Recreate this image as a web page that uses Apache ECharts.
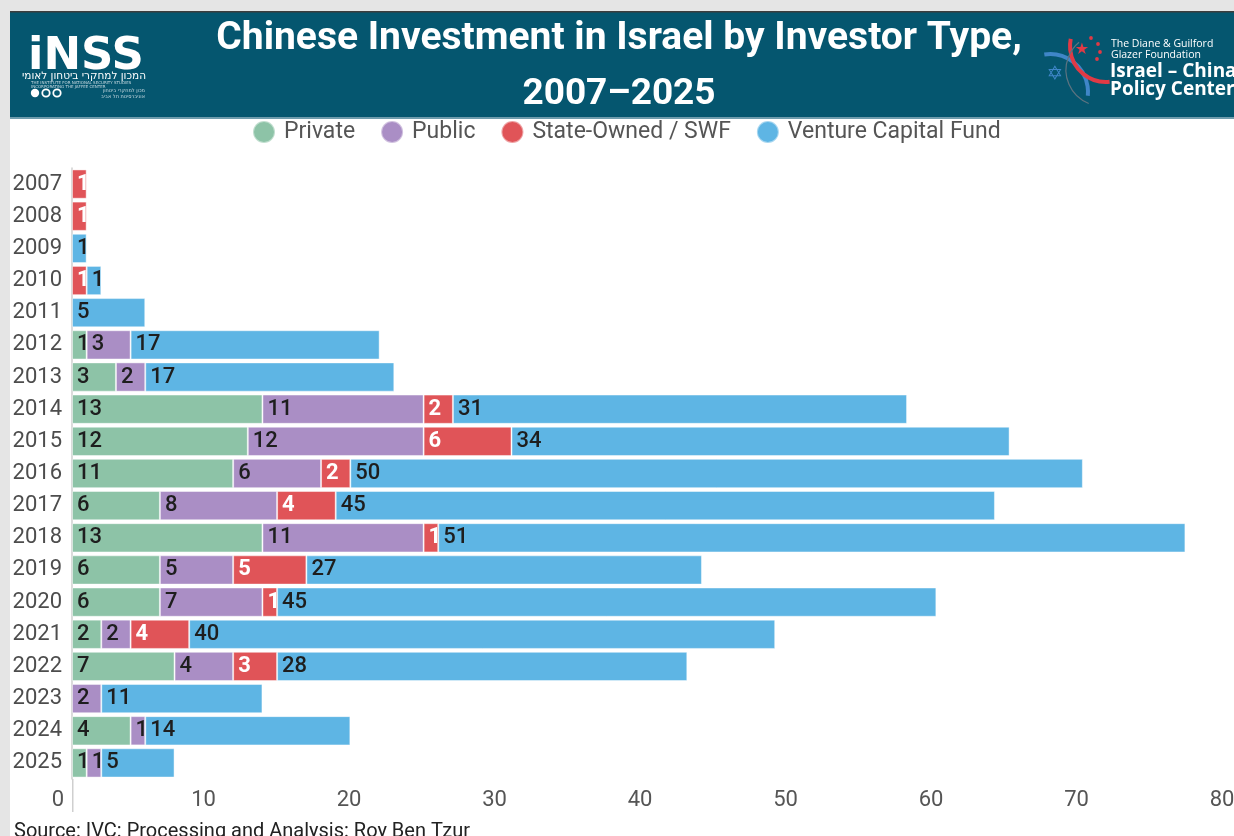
<!DOCTYPE html>
<html>
<head>
<meta charset="utf-8">
<title>Chinese Investment in Israel by Investor Type, 2007–2025</title>
<script src="https://cdn.jsdelivr.net/npm/echarts@6/dist/echarts.min.js"></script>
<style>
  html, body { margin: 0; padding: 0; background: #e5e5e5; overflow: hidden; }
  body { width: 1234px; height: 836px; }
  /* canvas is a little wider than the window so the value axis can run past the right edge */
  #chart { width: 1250px; height: 836px; }
</style>
</head>
<body>
<div id="chart"></div>
<script>
// Deal counts per year and investor type (null = no deals)
const years = ['2007', '2008', '2009', '2010', '2011', '2012', '2013', '2014', '2015', '2016',
               '2017', '2018', '2019', '2020', '2021', '2022', '2023', '2024', '2025'];
const privateVals = [null, null, null, null, null, 1, 3, 13, 12, 11, 6, 13, 6, 6, 2, 7, null, 4, 1];
const publicVals  = [null, null, null, null, null, 3, 2, 11, 12, 6, 8, 11, 5, 7, 2, 4, 2, 1, 1];
const stateVals   = [1, 1, null, 1, null, null, null, 2, 6, 2, 4, 1, 5, 1, 4, 3, null, null, null];
const vcfVals     = [null, null, 1, 1, 5, 17, 17, 31, 34, 50, 45, 51, 27, 45, 40, 28, 11, 14, 5];

const seriesNames = ['Private', 'Public', 'State-Owned / SWF', 'Venture Capital Fund'];
const colors = ['#8dc3a7', '#aa8ec5', '#e05458', '#5eb5e4'];
const axisMin = 0, axisMax = 80, axisStep = 10;

const FONT = 'Roboto, "Noto Sans", sans-serif';
const chart = echarts.init(document.getElementById('chart'), null, { renderer: 'canvas' });

function barSeries(name, data, color, labelColor, labelWeight) {
  return {
    name: name,
    type: 'bar',
    stack: 'total',
    xAxisIndex: 0,
    yAxisIndex: 0,
    data: data,
    barCategoryGap: '9%',
    itemStyle: { color: color, borderColor: 'rgba(255,255,255,0.45)', borderWidth: 1 },
    label: {
      show: true,
      position: 'insideLeft',
      distance: 5,
      formatter: p => (p.value == null ? '' : String(p.value)),
      color: labelColor,
      fontFamily: FONT,
      fontSize: 22,
      fontWeight: labelWeight
    },
    emphasis: { disabled: true }
  };
}

const option = {
  backgroundColor: '#e5e5e5',
  animation: false,
  legend: {
    data: seriesNames,
    left: 247,
    top: 115,
    icon: 'circle',
    itemWidth: 30,
    itemHeight: 22,
    itemGap: 25,
    textStyle: { fontFamily: FONT, fontSize: 23, color: '#555555' },
    selectedMode: false
  },
  grid: [
    { left: 72, top: 168, width: 1172, height: 611, containLabel: false },
    { left: 58, top: 168, width: 1164, height: 611, containLabel: false }
  ],
  xAxis: [
    {
      gridIndex: 0, type: 'value', min: axisMin, max: axisMax, interval: axisStep,
      axisLine: { show: false }, axisTick: { show: false },
      axisLabel: { show: false }, splitLine: { show: false }
    },
    {
      gridIndex: 1, type: 'value', min: axisMin, max: axisMax, interval: axisStep,
      axisLine: { show: false }, axisTick: { show: false }, splitLine: { show: false },
      axisLabel: { fontFamily: FONT, fontSize: 22, color: '#555555', margin: 10 }
    }
  ],
  yAxis: [
    {
      gridIndex: 0, type: 'category', data: years, inverse: true,
      axisLine: { show: true, lineStyle: { color: '#cfcfcf', width: 1.5 } },
      axisTick: { show: false },
      axisLabel: { fontFamily: FONT, fontSize: 22, color: '#4d4d4d', margin: 10 }
    },
    { gridIndex: 1, type: 'value', show: false, min: 0, max: 1 }
  ],
  series: [
    barSeries(seriesNames[0], privateVals, colors[0], '#1e1e1e', 500),
    barSeries(seriesNames[1], publicVals, colors[1], '#1e1e1e', 500),
    barSeries(seriesNames[2], stateVals, colors[2], '#ffffff', 'bold'),
    barSeries(seriesNames[3], vcfVals, colors[3], '#1e1e1e', 500)
  ],
  graphic: [
    // white page card
    { type: 'rect', z: -10, shape: { x: 10, y: 12, width: 1240, height: 824 }, style: { fill: '#ffffff' } },
    // header band
    { type: 'rect', z: -5, shape: { x: 10, y: 12, width: 1240, height: 105 }, style: { fill: '#05566f' } },
    { type: 'rect', z: -5, shape: { x: 10, y: 11, width: 1240, height: 1.5 }, style: { fill: '#3d3d3d' } },
    { type: 'rect', z: -5, shape: { x: 10, y: 117, width: 1240, height: 2 }, style: { fill: '#6f9cad' } },
    // title
    { type: 'text', z: 10, style: { x: 619, y: 39, text: 'Chinese Investment in Israel by Investor Type,', align: 'center', verticalAlign: 'middle', fill: '#ffffff', font: 'bold 39px ' + FONT } },
    { type: 'text', z: 10, style: { x: 619, y: 95, text: '2007–2025', align: 'center', verticalAlign: 'middle', fill: '#ffffff', font: 'bold 37px ' + FONT } },
    // INSS logo
    { type: 'text', z: 10, style: { x: 28, y: 57, text: 'iNSS', align: 'left', verticalAlign: 'middle', fill: '#ffffff', font: 'bold 45px "DejaVu Sans", sans-serif' } },
    { type: 'text', z: 10, style: { x: 146, y: 76, text: 'המכון למחקרי ביטחון לאומי', align: 'right', verticalAlign: 'middle', fill: '#ffffff', font: '10.5px "DejaVu Sans", sans-serif' } },
    { type: 'text', z: 10, style: { x: 31, y: 83, text: 'THE INSTITUTE FOR NATIONAL SECURITY STUDIES', align: 'left', verticalAlign: 'middle', fill: '#c9dbe2', font: '4px "DejaVu Sans", sans-serif' } },
    { type: 'text', z: 10, style: { x: 31, y: 87, text: 'INCORPORATING THE JAFFEE CENTER', align: 'left', verticalAlign: 'middle', fill: '#c9dbe2', font: '4px "DejaVu Sans", sans-serif' } },
    { type: 'circle', z: 10, shape: { cx: 35, cy: 93, r: 4.2 }, style: { fill: '#ffffff' } },
    { type: 'circle', z: 10, shape: { cx: 46, cy: 93, r: 3.7 }, style: { fill: 'none', stroke: '#ffffff', lineWidth: 1.8 } },
    { type: 'circle', z: 10, shape: { cx: 57, cy: 93, r: 3.7 }, style: { fill: 'none', stroke: '#ffffff', lineWidth: 1.8 } },
    { type: 'text', z: 10, style: { x: 145, y: 91, text: 'מכון למחקרי ביטחון', align: 'right', verticalAlign: 'middle', fill: '#c9dbe2', font: '5px "DejaVu Sans", sans-serif' } },
    { type: 'text', z: 10, style: { x: 145, y: 97, text: 'אוניברסיטת תל אביב', align: 'right', verticalAlign: 'middle', fill: '#c9dbe2', font: '5px "DejaVu Sans", sans-serif' } },
    // Israel–China Policy Center logo
    { type: 'arc', z: 10, shape: { cx: 1050, cy: 92, r: 38, startAngle: -Math.PI / 2 - 0.15, endAngle: 0.1, clockwise: true }, style: { stroke: '#3f86c8', lineWidth: 4, fill: 'none' } },
    { type: 'arc', z: 10, shape: { cx: 1106, cy: 46, r: 36, startAngle: Math.PI / 2 - 0.1, endAngle: Math.PI + 0.2, clockwise: true }, style: { stroke: '#e03a45', lineWidth: 4, fill: 'none' } },
    { type: 'arc', z: 10, shape: { cx: 1102, cy: 70, r: 36, startAngle: Math.PI * 0.62, endAngle: Math.PI * 1.28, clockwise: true }, style: { stroke: '#5d7380', lineWidth: 1.2, fill: 'none' } },
    { type: 'text', z: 11, style: { x: 1082, y: 50, text: '★', align: 'center', verticalAlign: 'middle', fill: '#e03a45', font: '16px "DejaVu Sans", sans-serif' } },
    { type: 'circle', z: 11, shape: { cx: 1091, cy: 38, r: 1.9 }, style: { fill: '#e03a45' } },
    { type: 'circle', z: 11, shape: { cx: 1098, cy: 44, r: 1.9 }, style: { fill: '#e03a45' } },
    { type: 'circle', z: 11, shape: { cx: 1100, cy: 52, r: 1.9 }, style: { fill: '#e03a45' } },
    { type: 'circle', z: 11, shape: { cx: 1097, cy: 59, r: 1.9 }, style: { fill: '#e03a45' } },
    { type: 'text', z: 11, style: { x: 1055, y: 75, text: '✡', align: 'center', verticalAlign: 'middle', fill: '#3f86c8', font: '20px "DejaVu Sans", sans-serif' } },
    { type: 'text', z: 10, style: { x: 1111, y: 44, text: 'The Diane & Guilford', align: 'left', verticalAlign: 'middle', fill: '#ffffff', font: '10.5px "Open Sans", sans-serif' } },
    { type: 'text', z: 10, style: { x: 1111, y: 55, text: 'Glazer Foundation', align: 'left', verticalAlign: 'middle', fill: '#ffffff', font: '10.5px "Open Sans", sans-serif' } },
    { type: 'text', z: 10, style: { x: 1110, y: 72, text: 'Israel – China', align: 'left', verticalAlign: 'middle', fill: '#ffffff', font: 'bold 19px "Open Sans", sans-serif' } },
    { type: 'text', z: 10, style: { x: 1110, y: 90, text: 'Policy Center', align: 'left', verticalAlign: 'middle', fill: '#ffffff', font: 'bold 19px "Open Sans", sans-serif' } },
    // axis line continues past the last row
    { type: 'line', z: 5, shape: { x1: 72.75, y1: 779, x2: 72.75, y2: 812 }, style: { stroke: '#cfcfcf', lineWidth: 1.5 } },
    // source note
    { type: 'text', z: 10, style: { x: 14, y: 832, text: 'Source: IVC: Processing and Analysis: Roy Ben Tzur', align: 'left', verticalAlign: 'middle', fill: '#222222', font: '20px ' + FONT } }
  ]
};

chart.setOption(option);
</script>
</body>
</html>
